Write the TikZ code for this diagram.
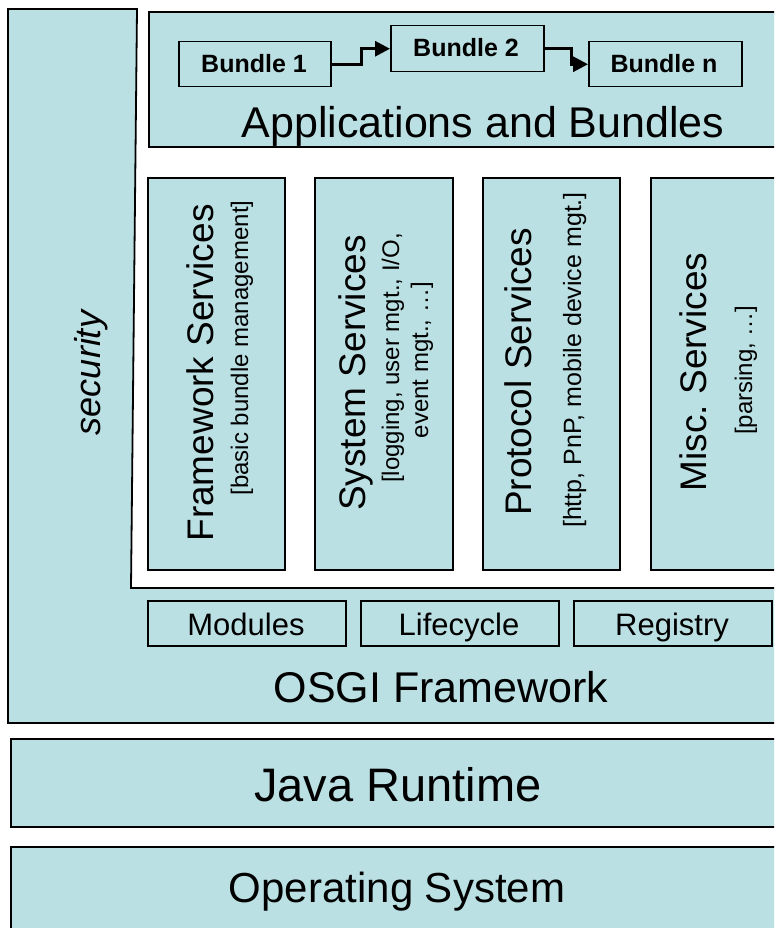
\documentclass[tikz,border=0pt]{standalone}
\usepackage{fontspec}
\setmainfont{Liberation Sans}
\usetikzlibrary{arrows.meta}
\definecolor{osgifill}{HTML}{BBE0E3}
\frenchspacing
\begin{document}
\begin{tikzpicture}[x=1pt,y=-1pt,
  panel/.style={draw=black, line width=1.8pt, fill=osgifill},
  inbox/.style={draw=black, line width=1.5pt, fill=osgifill, inner sep=0pt, anchor=north west},
  bigbox/.style={inbox, line width=1.8pt},
  bundlelbl/.style={inner sep=0pt, anchor=base, font=\bfseries\fontsize{25}{28}\selectfont},
  complbl/.style={inner sep=0pt, anchor=base, font=\fontsize{31}{34}\selectfont},
  biglbl/.style={inner sep=0pt, anchor=base, font=\fontsize{43}{46}\selectfont},
  svcbig/.style={rotate=90, anchor=base, inner sep=0pt, font=\fontsize{37}{40}\selectfont},
  svcsmall/.style={rotate=90, anchor=base, inner sep=0pt, font=\fontsize{24}{26}\selectfont},
  conn/.style={line width=3pt, -{Triangle[length=15pt,width=15pt]}}]
\useasboundingbox (0,0) rectangle (774,928);
\clip (0,0) rectangle (774,928);

% OSGi framework (with security column)
\draw[panel] (8,9) -- (137,9) -- (131,588) -- (800,588) -- (800,723) -- (8,723) -- cycle;
\node[biglbl] (osgi) at (441,702) {OSGI Framework};
\node[rotate=90, anchor=base, inner sep=0pt, font=\itshape\fontsize{36}{40}\selectfont] (sec) at (100,373) {security};

% Applications and Bundles
\node[bigbox, minimum width=660, minimum height=135] (apps) at (148,11) {};
\node[biglbl] (appslbl) at (483,138) {Applications and Bundles};
\node[inbox, minimum width=152, minimum height=45] (b1) at (178,41) {};
\node[bundlelbl] (b1lbl) at (254,73) {Bundle 1};
\node[inbox, minimum width=153, minimum height=46] (b2) at (390,25) {};
\node[bundlelbl] (b2lbl) at (466,57) {Bundle 2};
\node[inbox, minimum width=153, minimum height=45] (bn) at (588,41) {};
\node[bundlelbl] (bnlbl) at (664,73) {Bundle n};
\draw[conn] (b1.east) -- ++(30,0) |- (b2.west);
\draw[conn] (b2.east) -- ++(27,0) |- (bn.west);

% Service boxes
\node[inbox, line width=1.8pt, minimum width=137, minimum height=392] (fs) at (147,177) {};
\node[inbox, line width=1.8pt, minimum width=138, minimum height=392] (ss) at (314,177) {};
\node[inbox, line width=1.8pt, minimum width=137, minimum height=392] (ps) at (482,177) {};
\node[inbox, line width=1.8pt, minimum width=160, minimum height=392] (ms) at (650,177) {};
\node[svcbig] (fsT) at (213,373) {Framework Services};
\node[svcsmall] (fsS) at (248,348) {[basic bundle management]};
\node[svcbig] (ssT) at (365,373) {System Services};
\node[svcsmall] (ssS1) at (399,358) {[logging, user mgt., I/O,};
\node[svcsmall] (ssS2) at (428,360) {event mgt., …]};
\node[svcbig] (psT) at (531,372) {Protocol Services};
\node[svcsmall, font=\fontsize{25}{27}\selectfont] (psS) at (581,360) {[http, PnP, mobile device mgt.]};
\node[svcbig] (msT) at (706,372) {Misc. Services};
\node[svcsmall] (msS) at (752,370) {[parsing, …]};

% Framework components
\node[inbox, minimum width=198, minimum height=45] (mod) at (147,600) {};
\node[complbl] (modlbl) at (246,635) {Modules};
\node[inbox, minimum width=198, minimum height=45] (life) at (360,600) {};
\node[complbl] (lifelbl) at (459,635) {Lifecycle};
\node[inbox, minimum width=198, minimum height=45] (reg) at (573,600) {};
\node[complbl] (reglbl) at (672,635) {Registry};

% Java runtime and OS
\node[bigbox, minimum width=800, minimum height=88] (java) at (10,738) {};
\node[inner sep=0pt, anchor=base, font=\fontsize{47}{50}\selectfont] (javalbl) at (398,801) {Java Runtime};
\node[bigbox, minimum width=800, minimum height=100] (os) at (10,846) {};
\node[inner sep=0pt, anchor=base, font=\fontsize{42}{46}\selectfont] (oslbl) at (397,902) {Operating System};
\end{tikzpicture}
\end{document}
